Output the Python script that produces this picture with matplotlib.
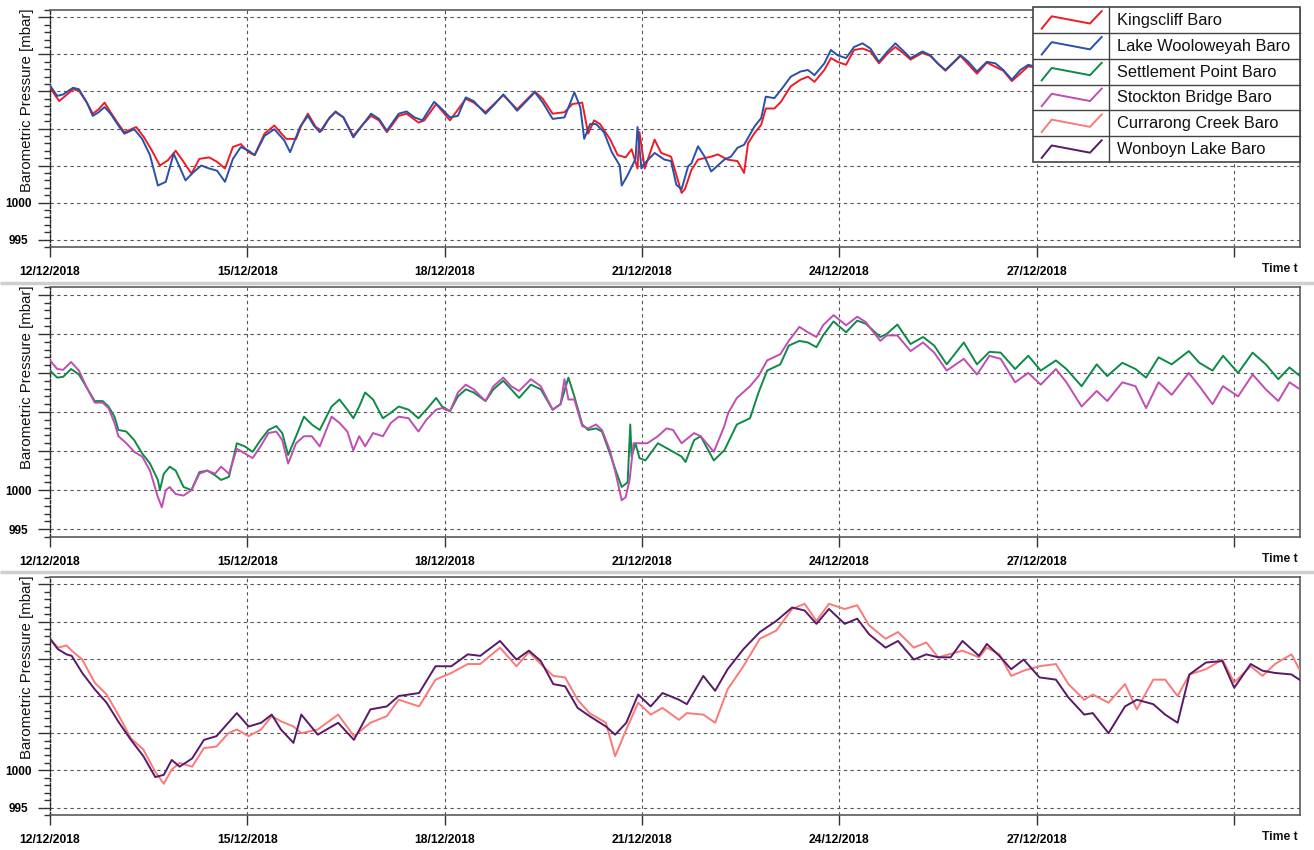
import matplotlib
matplotlib.use('Agg')
import matplotlib.pyplot as plt
import pandas as pd
from matplotlib.patches import Rectangle
from matplotlib.ticker import MultipleLocator

plt.rcParams['font.family'] = ['Liberation Sans', 'DejaVu Sans']

START = pd.Timestamp('2018-12-12')
X_END_DAYS = 19.0
Y_RANGE = (994, 1026)
Y_MAJOR = [995, 1000, 1005, 1010, 1015, 1020, 1025]
Y_LABELS = ['995', '1000', '', '', '', '', '']
X_TICK_DAYS = [0, 3, 6, 9, 12, 15, 18]
X_TICK_LABELS = ['12/12/2018', '15/12/2018', '18/12/2018', '21/12/2018',
                 '24/12/2018', '27/12/2018', '']

# (days since 12/12/2018 00:00, pressure mbar)
kingscliff = [
    (0.00, 1015.5), (0.14, 1013.7), (0.26, 1014.6), (0.35, 1015.3), (0.44, 1015.1),
    (0.56, 1013.5), (0.65, 1012.0), (0.74, 1012.6), (0.83, 1013.5), (0.92, 1012.2),
    (1.04, 1010.6), (1.13, 1009.5), (1.31, 1010.2), (1.43, 1008.8), (1.55, 1007.0),
    (1.67, 1005.0), (1.79, 1005.7), (1.91, 1007.0), (2.03, 1005.5), (2.15, 1003.9),
    (2.27, 1005.9), (2.42, 1006.1), (2.54, 1005.5), (2.66, 1004.6), (2.78, 1007.5),
    (2.90, 1007.9), (3.02, 1006.8), (3.11, 1006.4), (3.26, 1009.3), (3.41, 1010.4),
    (3.59, 1008.6), (3.74, 1008.6), (3.83, 1010.6), (3.92, 1012.0), (4.04, 1010.2),
    (4.13, 1009.7), (4.25, 1011.5), (4.34, 1012.2), (4.46, 1011.5), (4.61, 1009.0),
    (4.76, 1010.6), (4.88, 1011.7), (5.00, 1011.1), (5.12, 1009.5), (5.30, 1011.7),
    (5.42, 1012.0), (5.60, 1010.8), (5.69, 1011.1), (5.87, 1013.3), (6.08, 1011.1),
    (6.32, 1014.0), (6.44, 1013.5), (6.62, 1012.2), (6.89, 1014.5), (7.10, 1012.6),
    (7.37, 1015.0), (7.49, 1014.0), (7.64, 1012.0), (7.82, 1012.2), (7.94, 1013.3),
    (8.09, 1013.5), (8.18, 1009.3), (8.27, 1011.1), (8.36, 1010.6), (8.51, 1008.6),
    (8.63, 1006.4), (8.75, 1006.1), (8.84, 1007.2), (8.93, 1004.6), (8.96, 1009.5),
    (9.04, 1004.6), (9.19, 1008.5), (9.29, 1006.7), (9.44, 1006.2), (9.60, 1001.3),
    (9.65, 1001.8), (9.75, 1004.4), (9.85, 1005.8), (10.05, 1006.2), (10.15, 1006.5),
    (10.30, 1005.8), (10.45, 1005.6), (10.55, 1004.0), (10.61, 1008.0), (10.71, 1009.4),
    (10.81, 1010.5), (10.88, 1012.7), (11.01, 1012.7), (11.11, 1013.6), (11.26, 1015.7),
    (11.41, 1016.6), (11.52, 1017.0), (11.62, 1016.3), (11.77, 1017.9), (11.87, 1019.5),
    (11.97, 1019.0), (12.10, 1018.6), (12.22, 1020.6), (12.35, 1020.8), (12.47, 1020.4),
    (12.60, 1018.8), (12.73, 1020.1), (12.85, 1021.0), (12.98, 1020.1), (13.08, 1019.3),
    (13.26, 1020.2), (13.38, 1019.8), (13.61, 1017.8), (13.84, 1019.8), (14.09, 1017.4),
    (14.24, 1018.9), (14.49, 1017.8), (14.62, 1016.4), (14.87, 1018.4), (15.00, 1018.2),
]

lake_wooloweyah = [
    (0.00, 1015.8), (0.11, 1014.4), (0.20, 1014.6), (0.35, 1015.5), (0.44, 1015.3),
    (0.56, 1013.5), (0.65, 1011.7), (0.74, 1012.2), (0.83, 1012.9), (0.92, 1012.0),
    (1.04, 1010.4), (1.13, 1009.3), (1.28, 1009.9), (1.40, 1008.6), (1.52, 1006.4),
    (1.64, 1002.3), (1.76, 1002.8), (1.88, 1006.6), (2.06, 1003.0), (2.18, 1004.1),
    (2.30, 1005.0), (2.42, 1004.6), (2.54, 1004.3), (2.66, 1002.8), (2.78, 1005.9),
    (2.90, 1007.5), (3.02, 1007.0), (3.11, 1006.4), (3.26, 1009.0), (3.41, 1009.9),
    (3.56, 1008.4), (3.65, 1006.8), (3.80, 1010.2), (3.92, 1011.7), (4.01, 1010.4),
    (4.10, 1009.5), (4.22, 1011.1), (4.34, 1012.3), (4.46, 1011.5), (4.61, 1008.8),
    (4.76, 1010.6), (4.88, 1012.0), (5.00, 1011.3), (5.12, 1009.7), (5.30, 1012.0),
    (5.42, 1012.3), (5.54, 1011.5), (5.66, 1011.1), (5.84, 1013.6), (5.96, 1012.6),
    (6.08, 1011.5), (6.20, 1011.7), (6.32, 1014.2), (6.44, 1013.7), (6.62, 1012.0),
    (6.74, 1013.1), (6.89, 1014.6), (6.98, 1013.7), (7.10, 1012.4), (7.22, 1013.5),
    (7.37, 1014.9), (7.49, 1013.5), (7.64, 1011.3), (7.82, 1011.5), (7.91, 1013.5),
    (7.97, 1014.9), (8.06, 1012.9), (8.12, 1008.6), (8.21, 1010.6), (8.30, 1010.6),
    (8.42, 1009.5), (8.54, 1006.8), (8.66, 1005.0), (8.69, 1002.3), (8.78, 1003.7),
    (8.90, 1005.9), (8.93, 1010.2), (8.99, 1004.6), (9.04, 1005.3), (9.19, 1006.7),
    (9.34, 1005.8), (9.44, 1005.6), (9.52, 1002.4), (9.60, 1001.8), (9.70, 1004.9),
    (9.75, 1005.3), (9.85, 1007.6), (9.95, 1006.2), (10.05, 1004.2), (10.25, 1005.8),
    (10.35, 1006.2), (10.45, 1007.4), (10.55, 1007.8), (10.71, 1010.3), (10.81, 1011.4),
    (10.88, 1014.3), (11.01, 1014.1), (11.11, 1015.2), (11.26, 1017.0), (11.41, 1017.7),
    (11.52, 1017.9), (11.62, 1017.2), (11.77, 1018.8), (11.87, 1020.6), (11.97, 1019.9),
    (12.10, 1019.5), (12.22, 1021.0), (12.35, 1021.5), (12.47, 1020.8), (12.60, 1019.0),
    (12.73, 1020.4), (12.85, 1021.5), (12.98, 1020.4), (13.08, 1019.5), (13.26, 1020.4),
    (13.38, 1019.9), (13.49, 1018.8), (13.61, 1017.9), (13.74, 1019.0), (13.84, 1019.9),
    (13.96, 1019.0), (14.09, 1017.7), (14.24, 1019.0), (14.37, 1018.8), (14.49, 1017.9),
    (14.62, 1016.6), (14.75, 1017.9), (14.87, 1018.6), (15.00, 1018.3),
]

settlement_point = [
    (0.00, 1015.3), (0.11, 1014.4), (0.20, 1014.5), (0.32, 1015.5), (0.44, 1014.8),
    (0.56, 1013.1), (0.68, 1011.4), (0.80, 1011.4), (0.89, 1010.7), (0.98, 1009.4),
    (1.04, 1007.7), (1.16, 1007.5), (1.28, 1006.4), (1.40, 1004.7), (1.52, 1003.4),
    (1.64, 1001.3), (1.67, 1000.0), (1.73, 1002.1), (1.82, 1003.0), (1.91, 1002.5),
    (2.03, 1000.4), (2.15, 1000.0), (2.27, 1002.3), (2.39, 1002.5), (2.51, 1001.9),
    (2.60, 1001.3), (2.72, 1001.7), (2.84, 1006.0), (2.96, 1005.6), (3.08, 1004.9),
    (3.20, 1006.4), (3.32, 1007.7), (3.44, 1008.2), (3.53, 1007.3), (3.62, 1004.5),
    (3.74, 1006.9), (3.86, 1009.4), (3.98, 1008.4), (4.10, 1007.7), (4.28, 1010.7),
    (4.40, 1011.6), (4.52, 1010.3), (4.61, 1009.2), (4.70, 1010.7), (4.79, 1012.5),
    (4.91, 1011.6), (5.06, 1009.2), (5.18, 1009.9), (5.30, 1010.7), (5.45, 1010.3),
    (5.60, 1009.2), (5.72, 1010.3), (5.87, 1011.8), (5.96, 1010.7), (6.08, 1010.1),
    (6.20, 1012.0), (6.32, 1012.9), (6.44, 1012.5), (6.62, 1011.4), (6.74, 1012.9),
    (6.89, 1014.0), (7.01, 1012.9), (7.13, 1011.8), (7.31, 1013.5), (7.46, 1012.9),
    (7.64, 1010.3), (7.76, 1011.0), (7.88, 1014.4), (7.97, 1012.0), (8.09, 1008.4),
    (8.18, 1007.7), (8.30, 1007.9), (8.39, 1007.5), (8.51, 1004.7), (8.60, 1002.5),
    (8.69, 1000.4), (8.78, 1001.0), (8.82, 1008.4), (8.84, 1004.3), (8.90, 1006.0),
    (8.96, 1004.1), (9.05, 1003.8), (9.24, 1006.0), (9.60, 1004.3), (9.66, 1003.6),
    (9.79, 1006.4), (9.89, 1006.9), (10.09, 1003.8), (10.25, 1005.1), (10.44, 1008.4),
    (10.64, 1009.2), (10.77, 1012.5), (10.90, 1015.3), (11.10, 1016.1), (11.23, 1018.5),
    (11.39, 1019.1), (11.52, 1018.9), (11.65, 1018.3), (11.75, 1019.8), (11.91, 1021.6),
    (12.10, 1020.2), (12.27, 1021.7), (12.40, 1021.3), (12.62, 1019.6), (12.72, 1020.0),
    (12.88, 1021.2), (13.08, 1018.7), (13.27, 1019.6), (13.44, 1018.5), (13.63, 1016.1),
    (13.89, 1018.9), (14.09, 1016.1), (14.28, 1017.7), (14.45, 1017.6), (14.67, 1015.5),
    (14.87, 1017.2), (15.06, 1015.3), (15.29, 1016.6), (15.45, 1015.5), (15.68, 1013.3),
    (15.91, 1016.1), (16.07, 1014.6), (16.30, 1016.3), (16.50, 1015.5), (16.66, 1014.4),
    (16.85, 1017.0), (17.05, 1016.1), (17.31, 1017.8), (17.47, 1016.3), (17.67, 1015.3),
    (17.83, 1017.2), (18.06, 1015.0), (18.28, 1017.6), (18.48, 1016.1), (18.67, 1014.2),
    (18.84, 1015.7), (19.00, 1014.6),
]

stockton_bridge = [
    (0.00, 1016.6), (0.11, 1015.5), (0.20, 1015.4), (0.32, 1016.4), (0.44, 1015.3),
    (0.56, 1013.1), (0.68, 1011.2), (0.80, 1011.2), (0.89, 1010.5), (0.98, 1008.6),
    (1.04, 1006.9), (1.16, 1006.0), (1.28, 1004.9), (1.40, 1004.3), (1.52, 1002.5),
    (1.64, 999.1), (1.70, 997.8), (1.76, 1000.0), (1.82, 1000.4), (1.91, 999.5),
    (2.03, 999.3), (2.15, 1000.0), (2.27, 1002.1), (2.39, 1002.5), (2.51, 1002.1),
    (2.60, 1003.0), (2.72, 1002.1), (2.84, 1005.3), (2.96, 1004.7), (3.08, 1004.1),
    (3.20, 1005.6), (3.32, 1007.3), (3.44, 1007.5), (3.53, 1006.4), (3.62, 1003.4),
    (3.74, 1006.0), (3.86, 1006.9), (3.98, 1006.9), (4.10, 1005.6), (4.28, 1009.4),
    (4.40, 1008.6), (4.52, 1007.5), (4.61, 1005.1), (4.70, 1006.9), (4.79, 1005.6),
    (4.91, 1007.3), (5.06, 1006.9), (5.18, 1008.6), (5.30, 1009.4), (5.45, 1009.2),
    (5.60, 1007.5), (5.72, 1009.0), (5.87, 1010.3), (5.96, 1010.5), (6.08, 1010.1),
    (6.20, 1012.5), (6.32, 1013.5), (6.44, 1012.9), (6.62, 1011.4), (6.74, 1013.3),
    (6.89, 1014.4), (7.01, 1013.3), (7.13, 1012.7), (7.31, 1014.2), (7.46, 1013.3),
    (7.64, 1010.3), (7.76, 1011.0), (7.82, 1014.2), (7.88, 1011.6), (7.97, 1011.6),
    (8.09, 1008.2), (8.18, 1007.9), (8.30, 1008.4), (8.39, 1007.7), (8.51, 1005.1),
    (8.60, 1002.1), (8.69, 998.7), (8.75, 999.1), (8.81, 1001.3), (8.87, 1006.0),
    (8.96, 1006.0), (9.08, 1006.0), (9.24, 1006.9), (9.37, 1007.9), (9.47, 1007.7),
    (9.60, 1006.0), (9.79, 1007.3), (9.89, 1006.9), (10.09, 1004.9), (10.25, 1008.2),
    (10.31, 1009.9), (10.44, 1011.8), (10.64, 1013.3), (10.77, 1014.6), (10.90, 1016.6),
    (11.10, 1017.4), (11.23, 1019.1), (11.39, 1020.9), (11.52, 1020.2), (11.65, 1019.6),
    (11.75, 1021.1), (11.91, 1022.4), (12.10, 1021.1), (12.27, 1022.2), (12.40, 1021.5),
    (12.62, 1019.1), (12.72, 1019.8), (12.88, 1019.8), (13.08, 1017.8), (13.27, 1018.9),
    (13.44, 1017.6), (13.63, 1015.3), (13.89, 1016.8), (14.09, 1014.8), (14.28, 1017.2),
    (14.45, 1016.8), (14.67, 1013.8), (14.87, 1015.0), (15.06, 1013.5), (15.29, 1015.5),
    (15.45, 1013.8), (15.68, 1010.7), (15.91, 1012.7), (16.07, 1011.4), (16.30, 1013.8),
    (16.50, 1013.3), (16.66, 1010.5), (16.85, 1013.8), (17.05, 1012.2), (17.31, 1015.0),
    (17.47, 1013.3), (17.67, 1011.0), (17.83, 1013.3), (18.06, 1012.0), (18.28, 1014.8),
    (18.48, 1012.9), (18.67, 1011.4), (18.84, 1013.8), (19.00, 1012.9),
]

currarong_creek = [
    (0.00, 1017.7), (0.12, 1016.5), (0.25, 1016.8), (0.33, 1016.1), (0.49, 1014.9),
    (0.68, 1011.8), (0.86, 1010.2), (1.05, 1007.3), (1.23, 1004.3), (1.42, 1002.8),
    (1.60, 999.8), (1.73, 998.2), (1.85, 1000.1), (1.97, 1001.0), (2.16, 1000.5),
    (2.34, 1003.0), (2.53, 1003.2), (2.71, 1005.0), (2.84, 1005.5), (3.02, 1004.6),
    (3.21, 1005.5), (3.37, 1007.3), (3.51, 1006.6), (3.70, 1005.9), (3.82, 1005.0),
    (4.07, 1005.5), (4.38, 1007.5), (4.62, 1004.6), (4.87, 1006.4), (5.12, 1007.3),
    (5.30, 1009.5), (5.61, 1008.6), (5.86, 1012.2), (6.10, 1013.1), (6.35, 1014.3),
    (6.54, 1014.3), (6.84, 1016.5), (7.09, 1014.0), (7.28, 1015.9), (7.46, 1014.3),
    (7.65, 1012.7), (7.83, 1012.5), (8.02, 1009.5), (8.20, 1007.7), (8.45, 1006.4),
    (8.59, 1001.9), (8.76, 1005.5), (8.94, 1009.1), (9.13, 1007.5), (9.31, 1008.4),
    (9.56, 1006.8), (9.68, 1007.7), (9.93, 1007.5), (10.11, 1006.4), (10.30, 1010.9),
    (10.54, 1014.0), (10.79, 1017.7), (11.04, 1018.8), (11.28, 1021.7), (11.47, 1022.4),
    (11.65, 1020.1), (11.84, 1022.4), (12.08, 1021.7), (12.27, 1022.2), (12.45, 1019.5),
    (12.70, 1017.7), (12.89, 1018.6), (13.13, 1016.5), (13.32, 1017.2), (13.50, 1015.2),
    (13.87, 1016.1), (14.12, 1015.2), (14.24, 1016.5), (14.43, 1015.6), (14.61, 1012.7),
    (14.80, 1013.4), (15.04, 1014.0), (15.29, 1014.3), (15.48, 1011.6), (15.72, 1009.5),
    (15.85, 1010.2), (16.09, 1009.1), (16.34, 1011.6), (16.52, 1008.2), (16.77, 1012.2),
    (16.95, 1012.2), (17.14, 1010.0), (17.32, 1012.9), (17.57, 1013.6), (17.82, 1014.9),
    (18.00, 1011.8), (18.25, 1014.0), (18.43, 1012.7), (18.62, 1014.3), (18.87, 1015.6),
    (18.99, 1013.6),
]

wonboyn_lake = [
    (0.00, 1017.7), (0.12, 1016.3), (0.25, 1015.6), (0.33, 1015.4), (0.49, 1013.1),
    (0.68, 1010.9), (0.86, 1009.1), (1.05, 1006.4), (1.23, 1004.1), (1.42, 1001.9),
    (1.60, 999.1), (1.73, 999.4), (1.85, 1001.4), (1.97, 1000.5), (2.16, 1001.6),
    (2.34, 1004.1), (2.53, 1004.6), (2.71, 1006.4), (2.84, 1007.7), (3.02, 1005.9),
    (3.21, 1006.4), (3.37, 1007.5), (3.51, 1005.5), (3.70, 1003.7), (3.82, 1007.5),
    (4.07, 1004.8), (4.38, 1006.4), (4.62, 1004.1), (4.87, 1008.2), (5.12, 1008.6),
    (5.30, 1010.0), (5.61, 1010.4), (5.86, 1014.0), (6.10, 1014.0), (6.35, 1015.6),
    (6.54, 1015.4), (6.84, 1017.4), (7.09, 1014.9), (7.28, 1016.1), (7.46, 1014.7),
    (7.65, 1011.6), (7.83, 1011.3), (8.02, 1008.4), (8.20, 1007.3), (8.45, 1005.9),
    (8.59, 1004.8), (8.76, 1006.4), (8.94, 1010.2), (9.13, 1008.6), (9.31, 1010.4),
    (9.56, 1009.5), (9.68, 1008.9), (9.93, 1012.7), (10.11, 1010.7), (10.30, 1013.6),
    (10.54, 1016.3), (10.79, 1018.6), (11.04, 1020.1), (11.28, 1021.9), (11.47, 1021.5),
    (11.65, 1019.7), (11.84, 1021.7), (12.08, 1019.7), (12.27, 1020.4), (12.45, 1018.3),
    (12.70, 1016.5), (12.89, 1017.4), (13.13, 1014.9), (13.32, 1015.6), (13.50, 1015.2),
    (13.69, 1015.2), (13.87, 1017.4), (14.12, 1015.4), (14.24, 1017.0), (14.43, 1015.4),
    (14.61, 1013.6), (14.80, 1014.9), (15.04, 1012.5), (15.29, 1012.2), (15.48, 1009.8),
    (15.72, 1007.5), (15.85, 1007.7), (16.09, 1005.0), (16.34, 1008.6), (16.52, 1009.5),
    (16.77, 1008.9), (16.95, 1007.5), (17.14, 1006.4), (17.32, 1012.9), (17.57, 1014.5),
    (17.82, 1014.7), (18.00, 1011.1), (18.25, 1014.3), (18.43, 1013.4), (18.62, 1013.1),
    (18.87, 1012.9), (18.99, 1012.2),
]

panels = [
    [('Kingscliff Baro', kingscliff, '#ee1c25'),
     ('Lake Wooloweyah Baro', lake_wooloweyah, '#2a50a8')],
    [('Settlement Point Baro', settlement_point, '#0e8a48'),
     ('Stockton Bridge Baro', stockton_bridge, '#c04db4')],
    [('Currarong Creek Baro', currarong_creek, '#f97a78'),
     ('Wonboyn Lake Baro', wonboyn_lake, '#5a1968')],
]
legend_entries = [(n, c) for p in panels for (n, _, c) in p]

W, H = 1314, 850
fig = plt.figure(figsize=(W / 100, H / 100), dpi=100)
fig.patch.set_facecolor('white')

# pixel boxes (left, top, right, bottom)
boxes = [(50, 10, 1300, 247), (50, 287, 1300, 537), (50, 577, 1300, 815)]


def to_dates(days):
    return START + pd.to_timedelta(days, unit='D')


axes = []
for box, series in zip(boxes, panels):
    l, t, r, b = box
    ax = fig.add_axes([l / W, 1 - b / H, (r - l) / W, (b - t) / H])
    axes.append(ax)
    for name, data, color in series:
        d = [p[0] for p in data]
        v = [p[1] for p in data]
        ax.plot(to_dates(d), v, color=color, lw=1.4, zorder=3)
    ax.set_xlim(START, START + pd.Timedelta(days=X_END_DAYS))
    ax.set_ylim(*Y_RANGE)
    ax.set_yticks(Y_MAJOR, labels=Y_LABELS, fontweight='bold', fontsize=8.5, ha='center')
    ax.yaxis.set_minor_locator(MultipleLocator(1))
    ax.set_xticks(to_dates(X_TICK_DAYS), labels=X_TICK_LABELS, fontweight='bold', fontsize=8.7)
    ax.tick_params(axis='y', which='major', direction='out', length=9, width=1,
                   color='#333333', pad=14)
    ax.tick_params(axis='y', which='minor', direction='out', length=4.5, width=1,
                   color='#333333')
    ax.tick_params(axis='x', which='major', direction='out', length=7.5, width=1,
                   color='#333333', pad=6)
    ax.grid(True, which='major', linestyle=(0, (3, 3)), color='#555555', lw=0.8, zorder=1)
    for s in ['top', 'right', 'bottom']:
        ax.spines[s].set_color('#5a5a5a')
        ax.spines[s].set_linewidth(1.2)
    ax.spines['left'].set_color('#222222')
    ax.spines['left'].set_linestyle((0, (2, 1.5)))
    ax.spines['left'].set_linewidth(1.0)

# overlay in pixel coordinates for decorations
ov = fig.add_axes([0, 0, 1, 1])
ov.set_xlim(0, W)
ov.set_ylim(H, 0)
ov.axis('off')

# separators between panels
for yy in (283, 572):
    ov.plot([0, W], [yy, yy], color='#cfcfcf', lw=2.5, solid_capstyle='butt')

# y labels and "Time t"
for (l, t, r, b) in boxes:
    ov.text(27, t - 2, 'Barometric Pressure [mbar]', rotation=90, ha='center', va='top',
            fontsize=10.8, color='#111111')
    ov.text(1298, b + 22, 'Time t', ha='right', va='center', fontsize=8.7,
            fontweight='bold', color='#111111')

# legend table
LX0, LX1, LXD, LY0, LY1 = 1033, 1300, 1109, 7, 162
row_h = (LY1 - LY0) / len(legend_entries)
ov.add_patch(Rectangle((LX0, LY0), LX1 - LX0, LY1 - LY0, facecolor='white',
                       edgecolor='#444444', lw=1.2, zorder=5))
ov.plot([LXD, LXD], [LY0, LY1], color='#444444', lw=1.0, zorder=6)
for i, (name, color) in enumerate(legend_entries):
    top = LY0 + i * row_h
    if i > 0:
        ov.plot([LX0, LX1], [top, top], color='#444444', lw=1.0, zorder=6)
    sx = [1041.7, 1051.7, 1090.0, 1101.7]
    sy = [top + 0.84 * row_h, top + 0.36 * row_h, top + 0.64 * row_h, top + 0.16 * row_h]
    ov.plot(sx, sy, color=color, lw=1.4, zorder=7)
    ov.text(1117, top + row_h / 2 + 0.5, name, ha='left', va='center', fontsize=11.8,
            color='#111111', zorder=7)

fig.savefig('out.png', dpi=100, facecolor='white')
